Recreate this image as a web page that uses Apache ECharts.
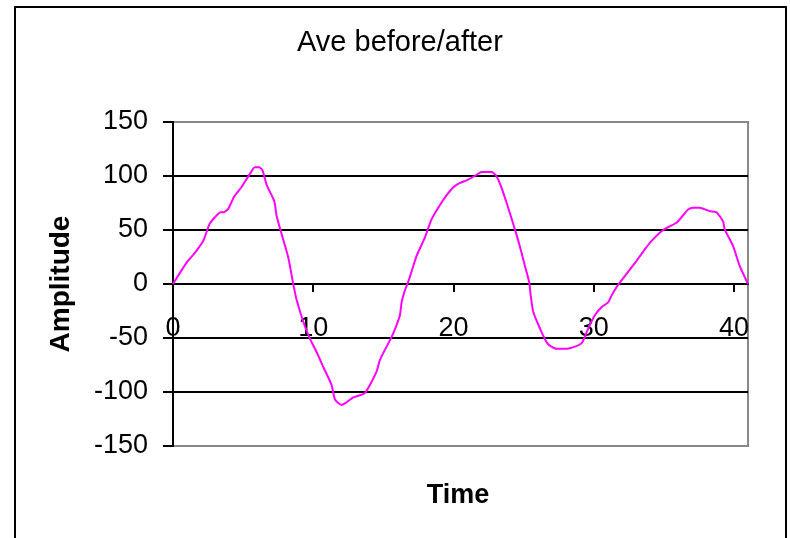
<!DOCTYPE html>
<html>
<head>
<meta charset="utf-8">
<script src="https://cdn.jsdelivr.net/npm/echarts@6/dist/echarts.min.js"></script>
<style>
html,body{margin:0;padding:0;background:#fff;}
#chart{width:790px;height:538px;}
</style>
</head>
<body>
<div id="chart"></div>
<script>
var titleText = 'Ave before/after';
var xAxisName = 'Time';
var yAxisName = 'Amplitude';
var xMin = 0, xMax = 41, xStep = 10;
var yMin = -150, yMax = 150, yStep = 50;

var timeValues = [0, 0.98, 1.57, 2.16, 2.59, 3.0, 3.4, 3.63, 3.94, 4.35, 4.9, 5.44, 5.84, 6.15, 6.39, 6.67, 7.22, 7.39, 7.75, 8.22, 8.53, 8.8, 9.29, 9.76, 10.24, 10.71, 11.31, 11.55, 12.02, 12.38, 12.85, 13.33, 13.68, 14.04, 14.52, 14.75, 15.11, 15.59, 15.94, 16.18, 16.3, 16.53, 16.8, 17.37, 17.96, 18.44, 18.98, 19.5, 20.03, 20.46, 20.93, 21.52, 22.0, 22.72, 23.07, 23.43, 23.9, 24.38, 24.73, 25.09, 25.4, 25.5, 25.69, 26.16, 26.63, 26.87, 27.35, 28.06, 28.65, 29.13, 29.37, 29.49, 30.08, 30.55, 31.03, 31.26, 31.62, 31.9, 33.05, 34.0, 34.95, 35.9, 36.37, 36.73, 37.09, 37.56, 38.27, 38.75, 39.22, 39.34, 39.94, 40.4, 41];
var amplitudeValues = [0, 20, 29, 40, 55, 62, 66.5, 66.5, 69.6, 80.7, 90, 101, 108, 108, 105, 92, 76.7, 63, 46, 24.5, 3, -14, -35, -50.6, -63, -76.7, -93.5, -107, -112, -109.5, -105, -103, -101, -93.5, -81, -70.5, -61, -49, -38, -29, -17, -6, 3, 26, 43, 60, 72, 82, 90, 93.6, 96, 100, 103.7, 103.7, 99.6, 89, 70.6, 50.6, 35, 17, 1.5, -10, -26, -41, -53.7, -57, -60, -60, -58, -55, -49, -44.5, -29, -21.5, -17, -11, -3, 2, 21.5, 38, 50, 56.7, 63.5, 69, 70.6, 70.6, 67.5, 66.5, 58, 50.6, 35, 17, 0];

var seriesData = timeValues.map(function (t, i) { return [t, amplitudeValues[i]]; });

var FONT = "'Liberation Sans', Arial, sans-serif";
var chart = echarts.init(document.getElementById('chart'), null, {renderer: 'canvas'});
chart.setOption({
  animation: false,
  backgroundColor: '#fff',
  title: {
    text: titleText, left: 292, top: 23,
    textStyle: {fontFamily: FONT, fontSize: 29, fontWeight: 'normal', color: '#000'}
  },
  graphic: [{
    type: 'rect',
    shape: {x: 15, y: 7, width: 771, height: 600},
    style: {fill: 'none', stroke: '#000', lineWidth: 2}, silent: true, z: 100
  }],
  grid: {
    left: 173, right: 42, top: 122, bottom: 92,
    containLabel: false, outerBoundsMode: 'none',
    show: true, borderColor: '#888', borderWidth: 2, backgroundColor: 'transparent'
  },
  xAxis: {
    type: 'value', min: xMin, max: xMax, interval: xStep,
    position: 'bottom', offset: -162,
    name: xAxisName, nameLocation: 'middle', nameGap: 198,
    nameTextStyle: {fontFamily: FONT, fontSize: 27, fontWeight: 'bold', color: '#000', padding: [0, 5, 0, 0]},
    axisLine: {onZero: false, lineStyle: {color: '#000', width: 2}},
    axisTick: {show: true, length: 8, lineStyle: {color: '#000', width: 2}},
    axisLabel: {margin: 31, showMaxLabel: false, fontFamily: FONT, fontSize: 27, color: '#000'},
    splitLine: {show: false}
  },
  yAxis: {
    type: 'value', min: yMin, max: yMax, interval: yStep,
    name: yAxisName, nameLocation: 'middle', nameGap: 98, nameRotate: 90,
    nameTextStyle: {fontFamily: FONT, fontSize: 28, fontWeight: 'bold', color: '#000'},
    axisLine: {show: true, onZero: false, lineStyle: {color: '#000', width: 2}},
    axisTick: {show: true, length: 10, lineStyle: {color: '#000', width: 2}},
    axisLabel: {margin: 25, fontFamily: FONT, fontSize: 27, color: '#000'},
    splitLine: {show: true, lineStyle: {color: ['#888', '#000', '#000', '#000', '#000', '#000', '#888'], width: 2}}
  },
  series: [{
    type: 'line', data: seriesData, smooth: 0.2, showSymbol: false,
    lineStyle: {color: '#FF00FF', width: 2}, itemStyle: {color: '#FF00FF'}
  }]
});
</script>
</body>
</html>
